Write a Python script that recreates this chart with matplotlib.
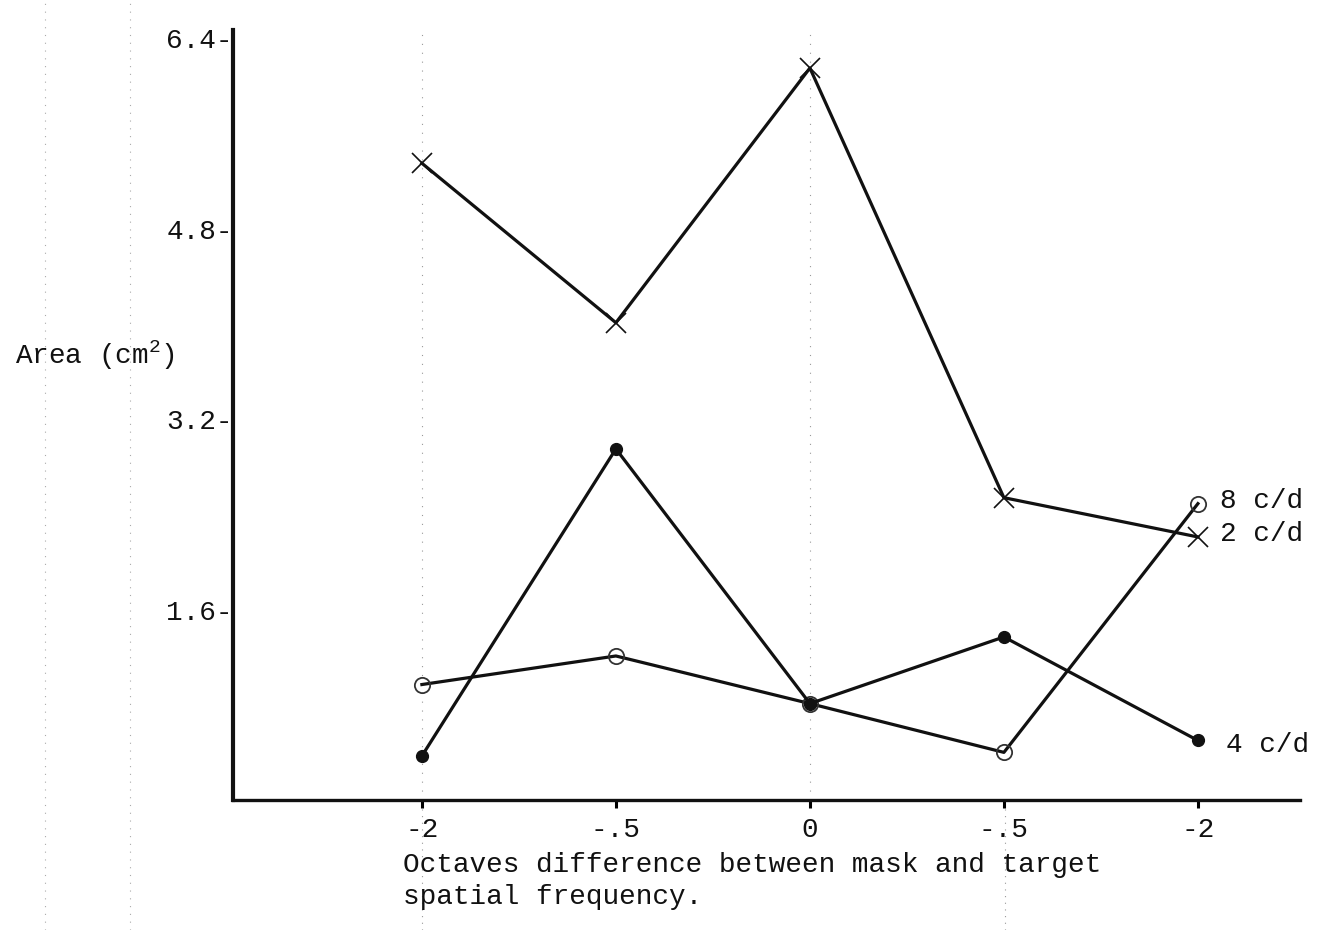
import matplotlib
matplotlib.use("Agg")
import matplotlib.pyplot as plt
from matplotlib.lines import Line2D
import numpy as np

plt.rcParams['font.family'] = ['Liberation Mono', 'DejaVu Sans Mono']
plt.rcParams['mathtext.fontset'] = 'custom'
plt.rcParams['mathtext.rm'] = 'Liberation Mono'
plt.rcParams['mathtext.it'] = 'Liberation Mono'

# octave differences between mask and target (as typed on the axis)
x_labels = ['-2', '-.5', '0', '-.5', '-2']
x_pos = np.arange(len(x_labels))

# area (cm^2) for each target spatial frequency
area_2cd = [5.35, 4.01, 6.15, 2.54, 2.21]
area_8cd = [0.97, 1.21, 0.81, 0.40, 2.49]
area_4cd = [0.37, 2.95, 0.81, 1.37, 0.50]

y_ticks = [1.6, 3.2, 4.8, 6.4]
y_tick_labels = ['1.6-', '3.2-', '4.8-', '6.4-']

fs = 20
ink = '#111111'

fig = plt.figure(figsize=(13.25, 9.3), dpi=100)
ax = fig.add_axes([0.1758, 0.1398, 0.8053, 0.828])

# faint pencil guide lines
for xp in [0, 2]:
    ax.axvline(xp, color='#999999', lw=0.8, ls=(0, (1, 7)), zorder=0)
for fx in [45 / 1325, 130 / 1325]:
    fig.add_artist(Line2D([fx, fx], [0.0, 1.0], color='#aaaaaa', lw=0.8,
                          ls=(0, (1, 6))))
for fx in [422 / 1325, 1005 / 1325]:
    fig.add_artist(Line2D([fx, fx], [0.0, 0.13], color='#999999', lw=0.8,
                          ls=(0, (1, 5))))

lw = 2.3
ax.plot(x_pos, area_2cd, color=ink, lw=lw, marker='x', ms=15, mew=1.2, zorder=3)
ax.plot(x_pos, area_8cd, color=ink, lw=lw, marker='o', ms=11, mfc='none',
        mec='#333333', mew=1.3, zorder=3)
ax.plot(x_pos, area_4cd, color=ink, lw=lw, marker='o', ms=8.5, mfc=ink, mec=ink, zorder=3)

ax.annotate('8 c/d', (x_pos[-1], area_8cd[-1]), xytext=(16, 2),
            textcoords='offset points', fontsize=fs, color=ink, va='center')
ax.annotate('2 c/d', (x_pos[-1], area_2cd[-1]), xytext=(16, 2),
            textcoords='offset points', fontsize=fs, color=ink, va='center')
ax.annotate('4 c/d', (x_pos[-1], area_4cd[-1]), xytext=(20, -3),
            textcoords='offset points', fontsize=fs, color=ink, va='center')

ax.set_xlim(-0.974, 4.526)
ax.set_ylim(0, 6.47)
ax.set_xticks(x_pos)
ax.set_xticklabels(x_labels, fontsize=fs, color=ink)
ax.set_yticks(y_ticks)
ax.set_yticklabels(y_tick_labels, fontsize=fs, color=ink)
ax.tick_params(axis='y', length=0, pad=0)
ax.tick_params(axis='x', direction='out', length=6, width=2.2, pad=6)

for s in ['top', 'right']:
    ax.spines[s].set_visible(False)
ax.spines['left'].set_linewidth(3.0)
ax.spines['bottom'].set_linewidth(2.4)
ax.spines['left'].set_color(ink)
ax.spines['bottom'].set_color(ink)
ax.patch.set_alpha(0)

fig.text(15 / 1325, 1 - 355 / 930, 'Area (cm$^{2}$)', fontsize=fs, color=ink,
         ha='left', va='center')
fig.text(403 / 1325, 1 - 852 / 930,
         'Octaves difference between mask and target\nspatial frequency.',
         fontsize=fs, color=ink, ha='left', va='top', linespacing=1.3)

fig.savefig('out.png', dpi=100)
